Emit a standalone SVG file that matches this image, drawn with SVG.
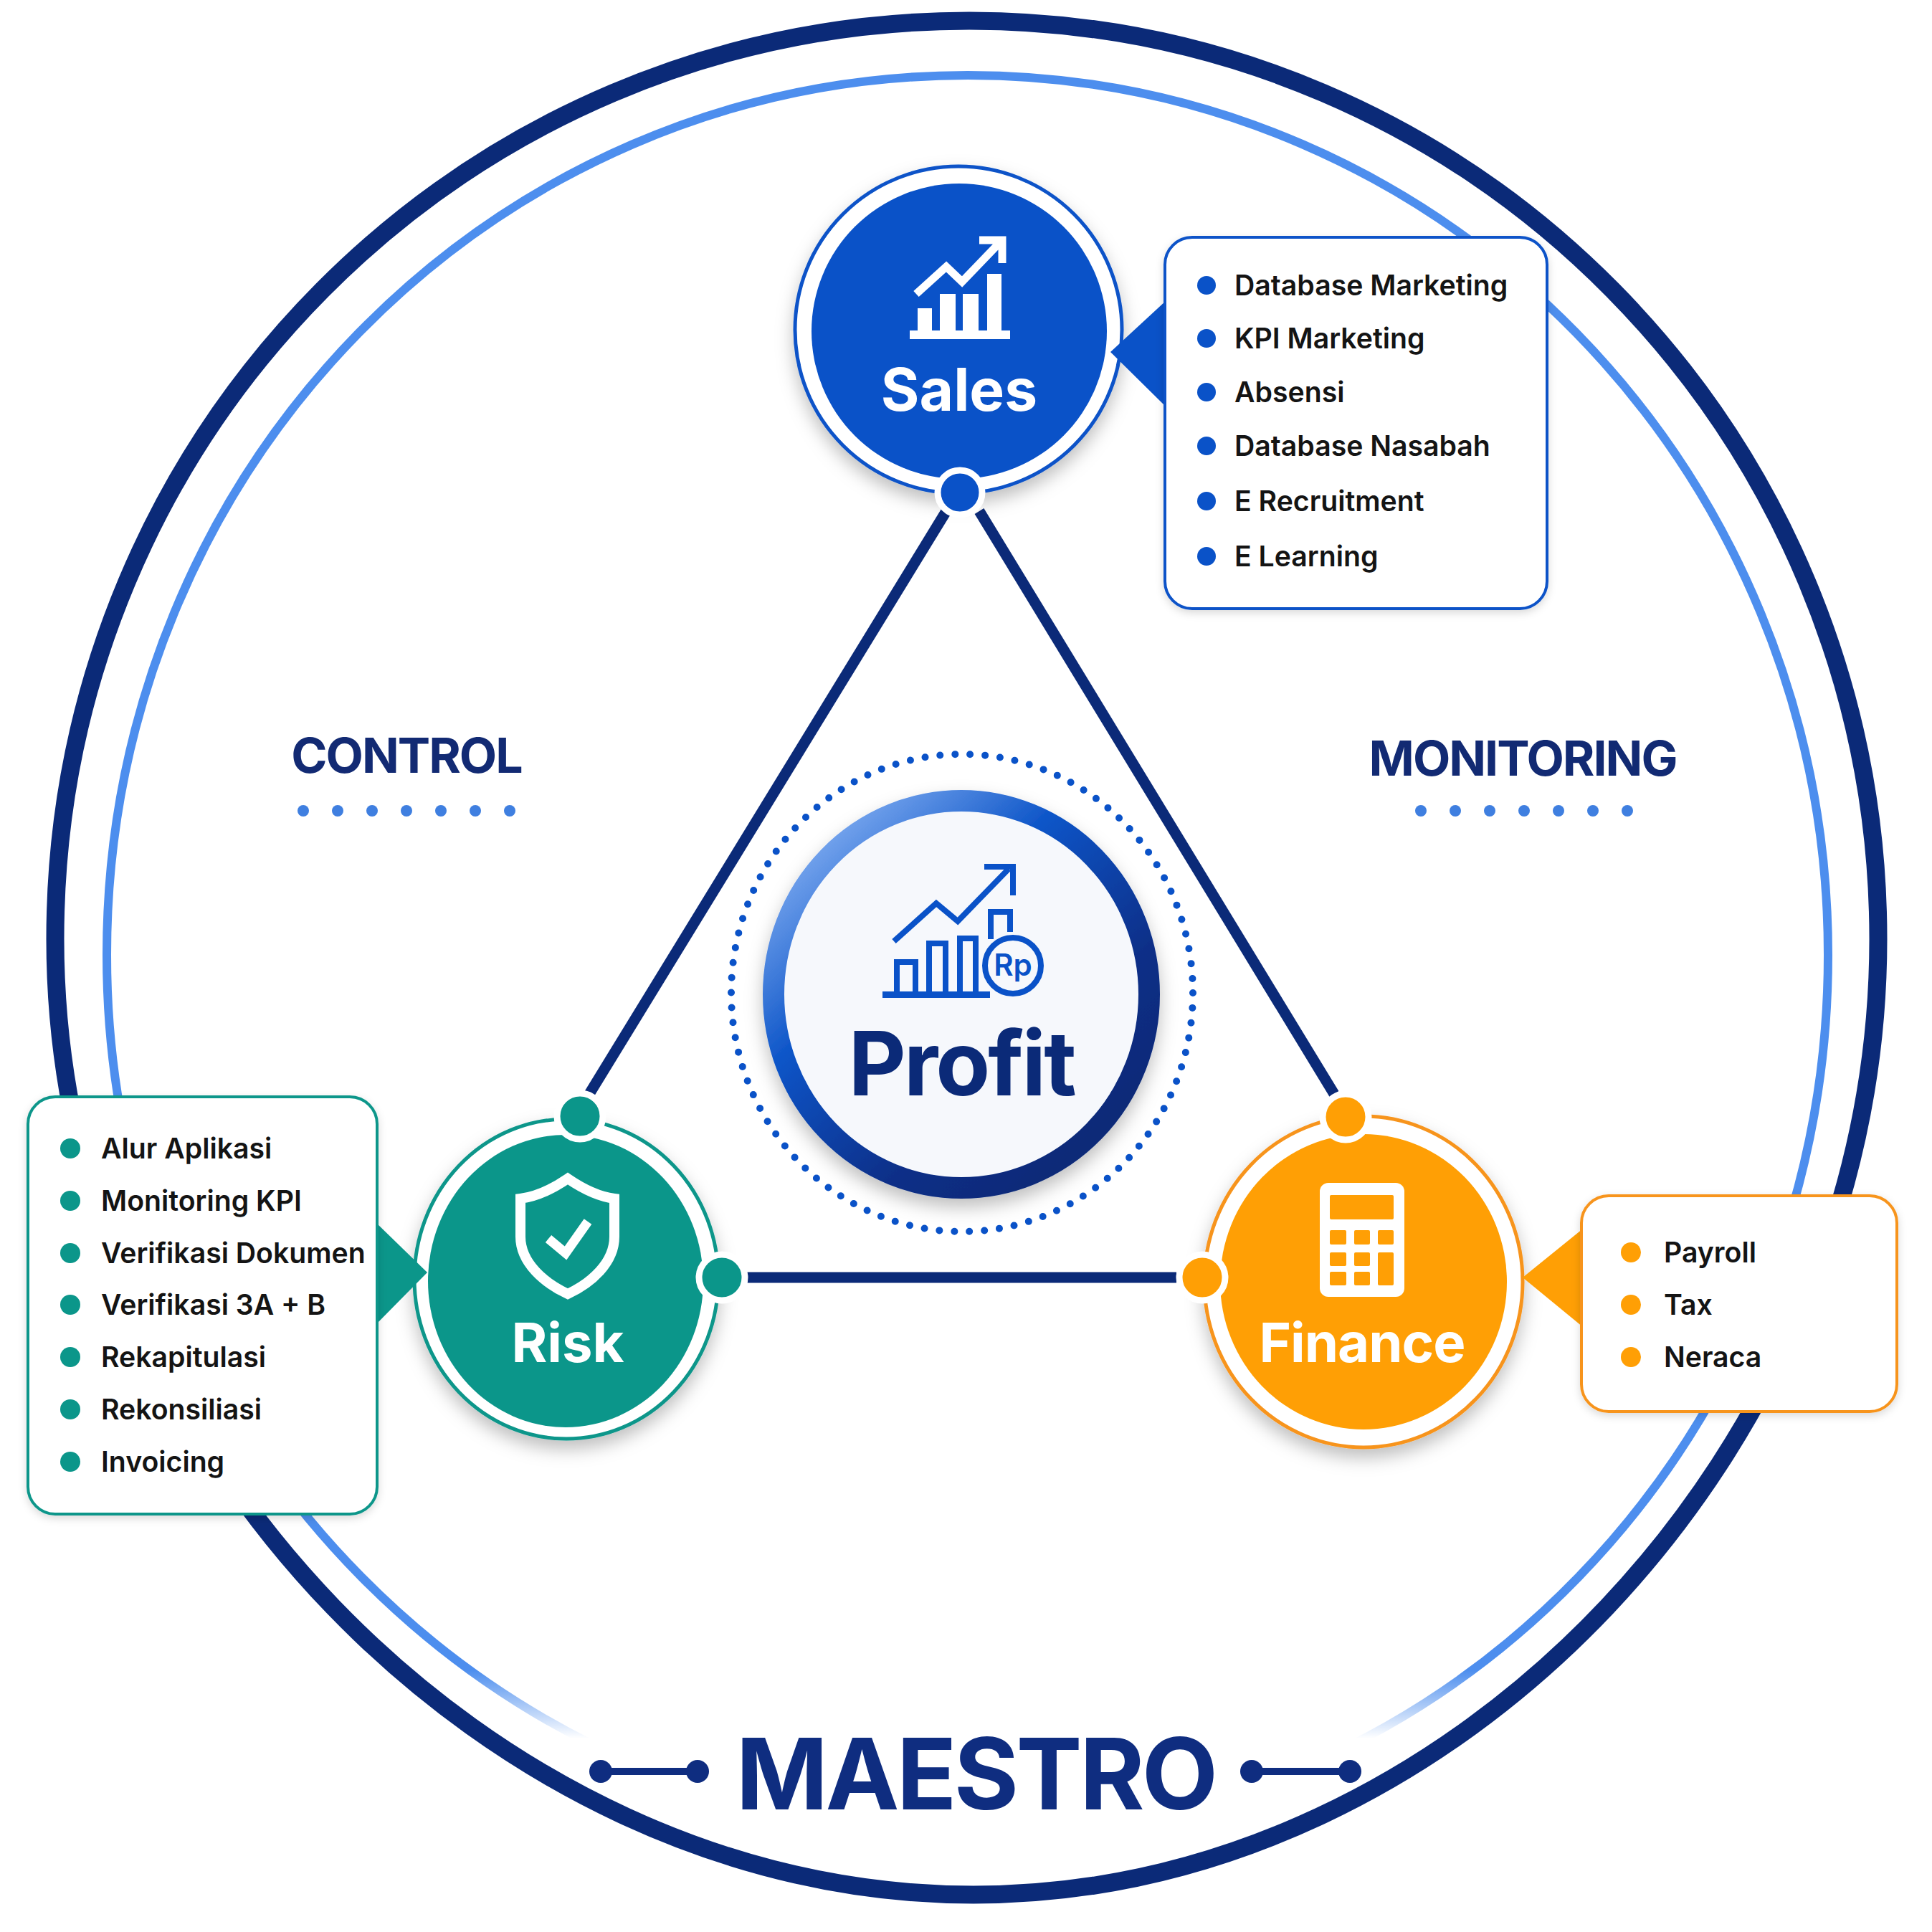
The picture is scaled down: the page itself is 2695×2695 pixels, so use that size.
<svg xmlns="http://www.w3.org/2000/svg" width="2695" height="2695" viewBox="0 0 2695 2695">
<style>
text{font-family:"Inter","Liberation Sans",sans-serif}
.item{font-size:39.2px;font-weight:600;fill:#141414}
.lbl{font-weight:700;fill:#fff;text-anchor:middle}
.side{font-size:68px;font-weight:700;fill:#122a73;text-anchor:middle;letter-spacing:-2px}
.navy{stroke:#0b2a78;fill:none}
.sales{fill:#0a52c8}.risk{fill:#0b968a}.fin{fill:#ff9f05}
.ico{fill:none;stroke:#0a52c8;stroke-width:8}
.dot{fill:#3f7fe0}
.card{fill:#fff;stroke-width:4;filter:url(#sh2)}
</style>
<defs>
<filter id="sh" x="-20%" y="-20%" width="140%" height="150%"><feDropShadow dx="0" dy="12" stdDeviation="12" flood-color="#000" flood-opacity=".25"/></filter>
<filter id="sh2" x="-10%" y="-10%" width="120%" height="120%"><feDropShadow dx="0" dy="4" stdDeviation="6" flood-color="#000" flood-opacity=".15"/></filter>
<linearGradient id="fade" gradientUnits="userSpaceOnUse" x1="0" y1="2330" x2="0" y2="2425"><stop offset="0" stop-color="#4d8eee"/><stop offset="1" stop-color="#4d8eee" stop-opacity="0"/></linearGradient>
<linearGradient id="pr" x1="0.1" y1="0.1" x2="0.8" y2="0.9"><stop offset="0" stop-color="#7aa8ef"/><stop offset=".35" stop-color="#0d55c8"/><stop offset=".75" stop-color="#0b2f88"/><stop offset="1" stop-color="#0b2a78"/></linearGradient>
</defs>
<rect width="2695" height="2695" fill="#fff"/>
<g id="rings">
<path d="M77 1310C77 603 646 29 1352 29C2054 29 2620 603 2620 1310C2620 2017 2032 2643 1358 2643C684 2643 77 2017 77 1310Z" class="navy" stroke-width="25"/>
<path d="M149 1332C149 654 686 105 1350 105C2013 105 2550 654 2550 1332C2550 2010 2018 2559 1362 2559C692 2559 149 2010 149 1332Z" fill="none" stroke="url(#fade)" stroke-width="12"/>
</g>
<g id="connectors" class="navy" stroke-width="15">
<line x1="1320" y1="713" x2="822" y2="1526"/>
<line x1="1366" y1="713" x2="1861" y2="1526"/>
<line x1="1040" y1="1782" x2="1641" y2="1782"/>
</g>
<g id="profit">
<ellipse cx="1342" cy="1385" rx="322" ry="333" fill="none" stroke="#0a52c8" stroke-width="10" stroke-linecap="round" stroke-dasharray="0 21"/>
<ellipse cx="1341" cy="1387" rx="262" ry="270" fill="#f6f8fc" stroke="url(#pr)" stroke-width="30" filter="url(#sh)"/>
<rect x="1231" y="1383" width="150" height="9" fill="#0a52c8"/>
<path class="ico" d="M1251 1384V1342H1277V1384M1296 1384V1316H1319V1384M1339 1384V1309H1361V1384M1382 1310V1272H1409V1300"/>
<path class="ico" d="M1247 1313L1306 1260L1336 1285L1407 1212M1373 1209H1413V1249"/>
<circle cx="1413" cy="1347" r="39" fill="#f6f8fc" stroke="#0a52c8" stroke-width="8"/>
<text x="1413" y="1361" font-size="42" font-weight="600" fill="#0a52c8" text-anchor="middle">Rp</text>
<text x="1341" y="1528" font-size="124" font-weight="700" fill="#0b2a78" text-anchor="middle" letter-spacing="-3">Profit</text>
</g>
<g id="sales">
<circle cx="1337" cy="460" r="228" fill="#fff" stroke="#0a52c8" stroke-width="5" filter="url(#sh)"/>
<polygon class="sales" points="1549,491 1627,419 1627,568"/>
<circle cx="1338" cy="462" r="206" class="sales"/>
<g fill="#fff"><rect x="1269" y="461" width="140" height="12"/><rect x="1280" y="430" width="20" height="36"/><rect x="1311" y="410" width="22" height="56"/><rect x="1343" y="410" width="22" height="56"/><rect x="1377" y="382" width="20" height="84"/></g>
<path d="M1278 410L1320 372L1342 393L1393 340M1366 335H1398V367" fill="none" stroke="#fff" stroke-width="11"/>
<text class="lbl" x="1338" y="573" font-size="82">Sales</text>
<circle cx="1339" cy="687" r="31" class="sales" stroke="#fff" stroke-width="9"/>
</g>
<g id="sales-card">
<rect class="card" x="1625" y="331" width="533" height="518" rx="38" stroke="#0a52c8"/>
<g class="sales"><circle cx="1683" cy="398" r="13"/><circle cx="1683" cy="472" r="13"/><circle cx="1683" cy="547" r="13"/><circle cx="1683" cy="622" r="13"/><circle cx="1683" cy="699" r="13"/><circle cx="1683" cy="776" r="13"/></g>
<text class="item" x="1722" y="412">Database Marketing</text>
<text class="item" x="1722" y="486">KPI Marketing</text>
<text class="item" x="1722" y="561">Absensi</text>
<text class="item" x="1722" y="636">Database Nasabah</text>
<text class="item" x="1722" y="713">E Recruitment</text>
<text class="item" x="1722" y="790">E Learning</text>
</g>
<g id="risk">
<ellipse cx="790" cy="1784" rx="212" ry="223" fill="#fff" stroke="#0b968a" stroke-width="5" filter="url(#sh)"/>
<polygon class="risk" points="596,1775 524,1705 524,1848"/>
<ellipse cx="789" cy="1787" rx="192" ry="204" class="risk"/>
<path d="M792 1644Q757 1668 726 1672V1725C726 1762 760 1790 792 1805C824 1790 857 1762 857 1725V1672Q827 1668 792 1644Z" fill="none" stroke="#fff" stroke-width="14"/>
<path d="M765 1728L789 1748L820 1704" fill="none" stroke="#fff" stroke-width="13"/>
<text class="lbl" x="792" y="1900" font-size="76">Risk</text>
<circle cx="809" cy="1557" r="32" class="risk" stroke="#fff" stroke-width="9"/>
<circle cx="1007" cy="1782" r="32" class="risk" stroke="#fff" stroke-width="9"/>
</g>
<g id="risk-card">
<rect class="card" x="39" y="1530" width="487" height="582" rx="38" stroke="#0b968a"/>
<g class="risk"><circle cx="98" cy="1602" r="14"/><circle cx="98" cy="1675" r="14"/><circle cx="98" cy="1748" r="14"/><circle cx="98" cy="1820" r="14"/><circle cx="98" cy="1893" r="14"/><circle cx="98" cy="1966" r="14"/><circle cx="98" cy="2039" r="14"/></g>
<text class="item" x="141" y="1616">Alur Aplikasi</text>
<text class="item" x="141" y="1689">Monitoring KPI</text>
<text class="item" x="141" y="1762">Verifikasi Dokumen</text>
<text class="item" x="141" y="1834">Verifikasi 3A + B</text>
<text class="item" x="141" y="1907">Rekapitulasi</text>
<text class="item" x="141" y="1980">Rekonsiliasi</text>
<text class="item" x="141" y="2053">Invoicing</text>
</g>
<g id="finance">
<ellipse cx="1902" cy="1788" rx="222" ry="231" fill="#fff" stroke="#f7941d" stroke-width="5" filter="url(#sh)"/>
<polygon class="fin" points="2124,1782 2208,1714 2208,1851"/>
<ellipse cx="1902" cy="1788" rx="200" ry="206" class="fin"/>
<rect x="1841" y="1650" width="118" height="159" rx="12" fill="#fff"/>
<g class="fin"><rect x="1855" y="1667" width="89" height="34" rx="2"/>
<rect x="1855" y="1716" width="23" height="20" rx="2"/><rect x="1889" y="1716" width="22" height="20" rx="2"/><rect x="1922" y="1716" width="22" height="20" rx="2"/>
<rect x="1855" y="1747" width="23" height="19" rx="2"/><rect x="1889" y="1747" width="22" height="19" rx="2"/><rect x="1922" y="1747" width="22" height="46" rx="2"/>
<rect x="1855" y="1774" width="23" height="19" rx="2"/><rect x="1889" y="1774" width="22" height="19" rx="2"/></g>
<text class="lbl" x="1900" y="1900" font-size="76" letter-spacing="-1">Finance</text>
<circle cx="1877" cy="1558" r="32" class="fin" stroke="#fff" stroke-width="9"/>
<circle cx="1677" cy="1782" r="32" class="fin" stroke="#fff" stroke-width="9"/>
</g>
<g id="finance-card">
<rect class="card" x="2206" y="1668" width="440" height="301" rx="38" stroke="#f7941d"/>
<g class="fin"><circle cx="2275" cy="1747" r="14"/><circle cx="2275" cy="1820" r="14"/><circle cx="2275" cy="1893" r="14"/></g>
<text class="item" x="2321" y="1761">Payroll</text>
<text class="item" x="2321" y="1834">Tax</text>
<text class="item" x="2321" y="1907">Neraca</text>
</g>
<g id="control">
<text class="side" x="567" y="1078">CONTROL</text>
<g class="dot"><circle cx="423" cy="1131" r="8"/><circle cx="471" cy="1131" r="8"/><circle cx="519" cy="1131" r="8"/><circle cx="567" cy="1131" r="8"/><circle cx="615" cy="1131" r="8"/><circle cx="663" cy="1131" r="8"/><circle cx="711" cy="1131" r="8"/></g>
</g>
<g id="monitoring">
<text class="side" x="2124" y="1082">MONITORING</text>
<g class="dot"><circle cx="1982" cy="1131" r="8"/><circle cx="2030" cy="1131" r="8"/><circle cx="2078" cy="1131" r="8"/><circle cx="2126" cy="1131" r="8"/><circle cx="2174" cy="1131" r="8"/><circle cx="2222" cy="1131" r="8"/><circle cx="2270" cy="1131" r="8"/></g>
</g>
<g id="maestro" fill="#0f2d80">
<text x="1361" y="2524" font-size="138" font-weight="700" fill="#0f2d80" text-anchor="middle" letter-spacing="-3.7">MAESTRO</text>
<circle cx="838" cy="2471" r="16"/><circle cx="973" cy="2471" r="16"/><rect x="838" y="2466" width="135" height="10"/>
<circle cx="1746" cy="2471" r="16"/><circle cx="1883" cy="2471" r="16"/><rect x="1746" y="2466" width="137" height="10"/>
</g>
</svg>
